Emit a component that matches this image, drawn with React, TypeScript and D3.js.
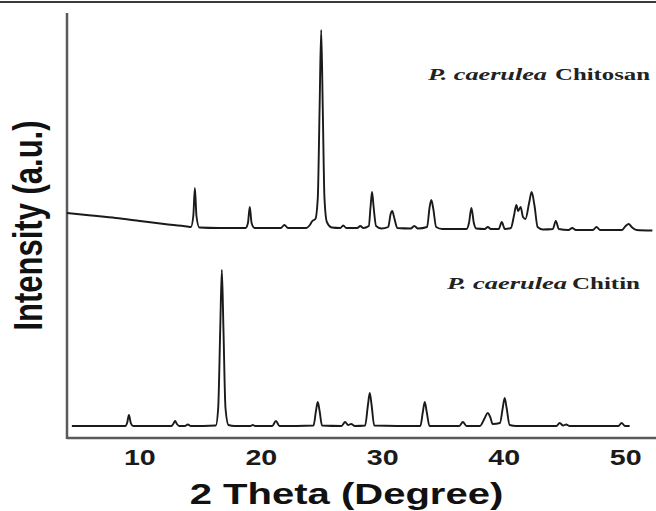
import React from "react";
import * as d3 from "d3";

// 2θ (degree) / intensity (a.u.) points
const chitosan: [number, number][] = [
  [4, 225], [6, 222.5], [8, 220], [10, 217], [12, 214], [13.9, 211.5],
  [14.2, 211], [14.4, 222], [14.53, 250], [14.66, 222], [14.9, 210.5],
  [16.5, 210], [18.7, 210], [18.9, 215], [19.05, 231], [19.2, 215], [19.45, 210],
  [21.6, 210], [21.9, 213], [22.2, 210], [23.7, 210], [24.0, 213], [24.2, 217],
  [24.45, 219], [24.65, 240], [24.8, 330], [24.93, 408], [25.06, 330], [25.2, 240],
  [25.4, 216], [25.8, 210.5], [26.5, 210], [26.75, 212.5], [27.0, 210], [27.9, 210],
  [28.15, 212], [28.4, 210], [28.85, 212], [29.0, 232], [29.12, 246], [29.24, 232],
  [29.45, 212], [29.9, 209.5], [30.45, 211], [30.65, 224], [30.78, 227], [30.95, 220],
  [31.2, 210], [32.3, 209.5], [32.6, 212], [32.9, 209.5], [33.65, 211], [33.85, 230],
  [34.0, 238], [34.15, 230], [34.4, 211], [34.9, 209], [36.9, 209], [37.1, 215],
  [37.3, 230], [37.5, 215], [37.7, 209.5], [38.4, 209], [38.65, 211], [38.9, 209],
  [39.55, 209], [39.8, 216], [40.05, 209], [40.55, 210], [40.8, 222], [41.0, 233],
  [41.15, 227], [41.35, 231], [41.55, 221], [41.75, 219], [42.05, 235], [42.26, 246],
  [42.5, 232], [42.75, 211], [43.2, 208.5], [44.0, 209], [44.25, 217], [44.5, 209],
  [45.3, 208], [45.6, 210], [45.9, 208], [47.3, 208], [47.6, 211], [47.9, 208],
  [49.7, 208], [50.0, 212], [50.25, 214], [50.5, 211], [50.9, 208], [52.2, 207.5],
];

const chitin: [number, number][] = [
  [4.4, 12], [8.8, 12], [8.95, 15], [9.1, 23], [9.25, 15], [9.45, 12],
  [12.6, 12], [12.75, 14], [12.9, 17], [13.05, 14], [13.25, 12], [13.7, 12],
  [13.95, 13.5], [14.2, 12], [16.25, 12.5], [16.45, 30], [16.62, 110], [16.75, 168],
  [16.88, 110], [17.05, 30], [17.3, 13], [17.8, 12], [19.1, 12], [19.3, 13],
  [19.5, 12], [20.9, 12], [21.2, 17], [21.5, 12], [24.3, 12.5], [24.5, 27],
  [24.65, 36], [24.8, 27], [25.0, 12.5], [26.6, 12], [26.9, 16], [27.15, 13],
  [27.4, 14], [27.7, 12], [28.55, 12.5], [28.78, 33], [28.93, 45], [29.08, 33],
  [29.3, 12.5], [33.1, 12], [33.3, 26], [33.46, 36], [33.62, 26], [33.85, 12],
  [36.3, 12], [36.6, 16], [36.9, 12], [38.0, 12], [38.4, 20], [38.64, 25],
  [38.85, 21], [39.05, 14], [39.65, 15], [39.88, 30], [40.04, 40], [40.2, 30],
  [40.45, 13], [41.0, 12], [44.3, 12], [44.57, 15], [44.85, 12.5], [45.1, 13.5],
  [45.4, 12], [49.4, 12], [49.67, 15], [49.95, 12], [50.33, 12],
];

const xTicks = [10, 20, 30, 40, 50];

const W = 656;
const H = 511;
const left = 67;
const bottom = 438;
const top = 13;

const App = () => {
  const x = d3.scaleLinear().domain([4, 52.5]).range([left, W]);
  const y = d3.scaleLinear().domain([0, 425]).range([bottom, top]);

  const line = d3
    .line<[number, number]>()
    .x((d) => x(d[0]))
    .y((d) => y(d[1]))
    .curve(d3.curveMonotoneX);

  const serif = "'Liberation Serif', 'Times New Roman', serif";
  const sans = "'Liberation Sans', Arial, sans-serif";

  return (
    <svg
      width={W}
      height={H}
      style={{ position: "absolute", left: 0, top: 0, background: "#fff" }}
    >
      {/* top frame line */}
      <line x1={0} x2={W} y1={2} y2={2} stroke="#3a3a3a" strokeWidth={2} />

      {/* axes */}
      <line x1={left} x2={left} y1={top} y2={bottom + 1} stroke="#5a5a5a" strokeWidth={2.5} />
      <line x1={left} x2={W} y1={bottom} y2={bottom} stroke="#5a5a5a" strokeWidth={2.5} />

      {/* traces */}
      <path d={line(chitosan) || ""} fill="none" stroke="#1a1a1a" strokeWidth={1.9} strokeLinejoin="round" />
      <path d={line(chitin) || ""} fill="none" stroke="#1a1a1a" strokeWidth={1.9} strokeLinejoin="round" />

      {/* tick labels */}
      {xTicks.map((t) => (
        <text
          key={t}
          transform={`translate(${x(t)},465) scale(1.3,1)`}
          textAnchor="middle"
          fontFamily={sans}
          fontWeight="bold"
          fontSize={22}
          fill="#1a1a1a"
        >
          {t}
        </text>
      ))}

      {/* axis titles */}
      <text
        transform="translate(346.5,504) scale(1.38,1)"
        textAnchor="middle"
        fontFamily={sans}
        fontWeight="bold"
        fontSize={29}
        fill="#111"
      >
        2 Theta (Degree)
      </text>
      <text
        transform="translate(42,225.5) scale(1.3,1) rotate(-90)"
        textAnchor="middle"
        fontFamily={sans}
        fontWeight="bold"
        fontSize={31}
        fill="#111"
      >
        Intensity (a.u.)
      </text>

      {/* series labels */}
      <text x={428} y={80} fontFamily={serif} fontWeight="bold" fontStyle="italic" fontSize={17.5}
        textLength={119} lengthAdjust="spacingAndGlyphs" fill="#222">
        P. caerulea
      </text>
      <text x={555} y={80} fontFamily={serif} fontWeight="bold" fontSize={17.5}
        textLength={95} lengthAdjust="spacingAndGlyphs" fill="#222">
        Chitosan
      </text>
      <text x={447} y={289} fontFamily={serif} fontWeight="bold" fontStyle="italic" fontSize={17.5}
        textLength={120} lengthAdjust="spacingAndGlyphs" fill="#222">
        P. caerulea
      </text>
      <text x={572} y={289} fontFamily={serif} fontWeight="bold" fontSize={17.5}
        textLength={68} lengthAdjust="spacingAndGlyphs" fill="#222">
        Chitin
      </text>
    </svg>
  );
};

export default App;
